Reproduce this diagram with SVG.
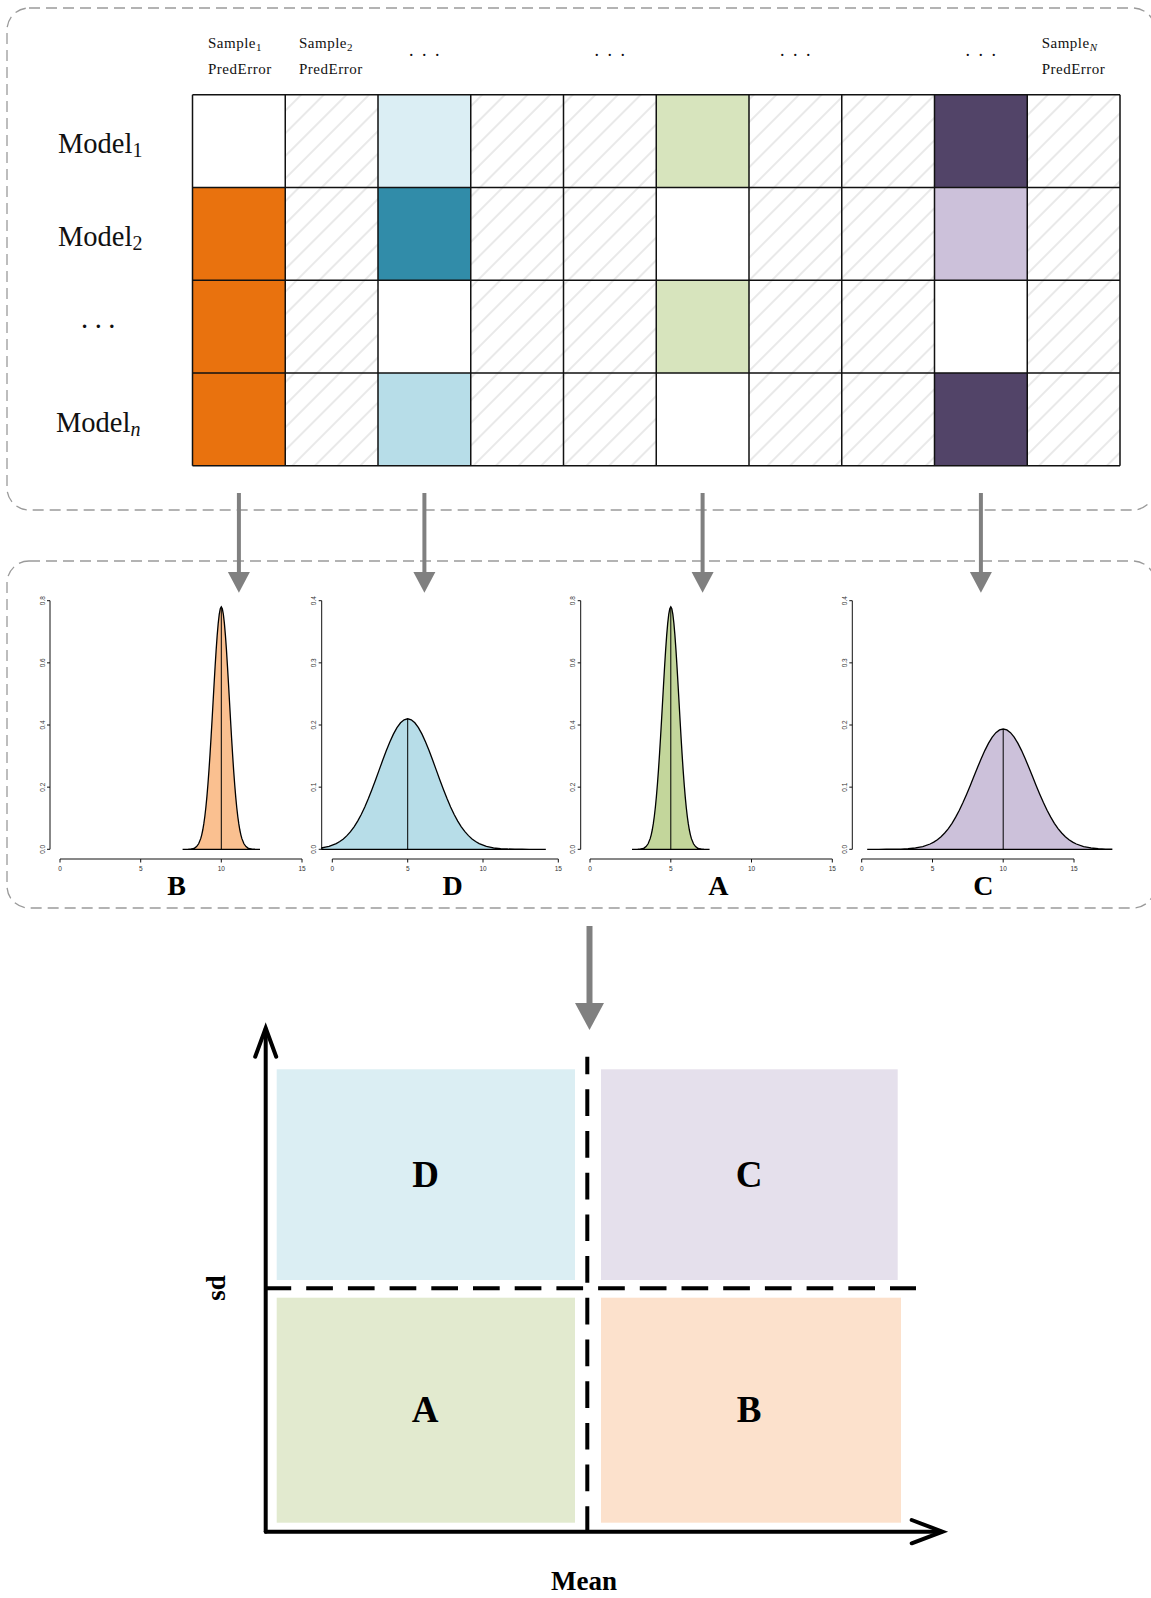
<svg xmlns="http://www.w3.org/2000/svg" width="1151" height="1598" viewBox="0 0 1151 1598">
<style>
.box{fill:none;stroke:#9a9a9a;stroke-width:1.3;stroke-dasharray:11 6}
.hdr{font-family:"Liberation Serif",serif;font-size:15px;fill:#111;letter-spacing:0.5px}
.dots{font-family:"Liberation Serif",serif;font-size:18px;fill:#111;letter-spacing:8.5px}
.mdl{font-family:"Liberation Serif",serif;font-size:28.5px;fill:#111}
.grid{stroke:#111;stroke-width:1.5;fill:none}
.arr{stroke:#808080;stroke-width:4;fill:none}
.ah{fill:#808080}
.ax{stroke:#111;stroke-width:1;fill:none}
.tk{font-family:"Liberation Sans",sans-serif;font-size:6.5px;fill:#333}
.curve{stroke:#000;stroke-width:1.3;vector-effect:non-scaling-stroke}
.mean{stroke:#000;stroke-width:1}
.plab{font-family:"Liberation Serif",serif;font-size:28px;font-weight:bold;fill:#000;text-anchor:middle}
.qlab{font-family:"Liberation Serif",serif;font-size:37px;font-weight:bold;fill:#000;text-anchor:middle}
.axlab{font-family:"Liberation Serif",serif;font-size:27px;font-weight:bold;fill:#000;text-anchor:middle}
.dash{stroke:#000;stroke-width:4;fill:none;stroke-dasharray:26.7 15}
.bax{stroke:#000;stroke-width:4;fill:none;stroke-linecap:round}
</style>
<defs>
<pattern id="hatch" patternUnits="userSpaceOnUse" width="16" height="16" patternTransform="rotate(-45)">
<rect width="16" height="16" fill="#fff"/>
<line x1="0" y1="8" x2="16" y2="8" stroke="#d3d3d3" stroke-width="1"/>
</pattern>
</defs>

<g id="panel-top">
<rect class="box" x="7" y="8" width="1148" height="502" rx="22"/>
</g>
<g id="panel-mid">
<rect class="box" x="7" y="561" width="1148" height="347" rx="22"/>
</g>

<g id="headers">
<text class="hdr" x="208" y="48">Sample<tspan font-size="11" dy="3">1</tspan></text>
<text class="hdr" x="208" y="74">PredError</text>
<text class="hdr" x="299" y="48">Sample<tspan font-size="11" dy="3">2</tspan></text>
<text class="hdr" x="299" y="74">PredError</text>
<text class="hdr" x="1041.7" y="48">Sample<tspan font-size="11" dy="3" font-style="italic">N</tspan></text>
<text class="hdr" x="1041.7" y="74">PredError</text>
<text class="dots" x="409" y="55.5">...</text>
<text class="dots" x="594.6" y="55.5">...</text>
<text class="dots" x="780" y="55.5">...</text>
<text class="dots" x="965.6" y="55.5">...</text>
</g>

<g id="row-labels">
<text class="mdl" x="58" y="153">Model<tspan font-size="20" dy="4">1</tspan></text>
<text class="mdl" x="58" y="245.5">Model<tspan font-size="20" dy="4">2</tspan></text>
<text class="mdl" x="81" y="328" style="letter-spacing:6.5px">...</text>
<text class="mdl" x="56" y="431.7">Model<tspan font-size="20" dy="4" font-style="italic">n</tspan></text>
</g>

<g id="matrix">
<rect x="192.5" y="94.7" width="927.5" height="371" fill="url(#hatch)"/>
<rect x="192.5" y="94.7" width="92.75" height="92.75" fill="#ffffff"/>
<rect x="378" y="94.7" width="92.75" height="92.75" fill="#dbeef4"/>
<rect x="656.25" y="94.7" width="92.75" height="92.75" fill="#d7e4bd"/>
<rect x="934.5" y="94.7" width="92.75" height="92.75" fill="#524468"/>
<rect x="192.5" y="187.45" width="92.75" height="92.75" fill="#e9720e"/>
<rect x="378" y="187.45" width="92.75" height="92.75" fill="#318ca9"/>
<rect x="656.25" y="187.45" width="92.75" height="92.75" fill="#ffffff"/>
<rect x="934.5" y="187.45" width="92.75" height="92.75" fill="#ccc1da"/>
<rect x="192.5" y="280.2" width="92.75" height="92.75" fill="#e9720e"/>
<rect x="378" y="280.2" width="92.75" height="92.75" fill="#ffffff"/>
<rect x="656.25" y="280.2" width="92.75" height="92.75" fill="#d7e4bd"/>
<rect x="934.5" y="280.2" width="92.75" height="92.75" fill="#ffffff"/>
<rect x="192.5" y="372.95" width="92.75" height="92.75" fill="#e9720e"/>
<rect x="378" y="372.95" width="92.75" height="92.75" fill="#b7dde8"/>
<rect x="656.25" y="372.95" width="92.75" height="92.75" fill="#ffffff"/>
<rect x="934.5" y="372.95" width="92.75" height="92.75" fill="#524468"/>
<path class="grid" d="M192.5,94.7V465.7 M285.25,94.7V465.7 M378,94.7V465.7 M470.75,94.7V465.7 M563.5,94.7V465.7 M656.25,94.7V465.7 M749,94.7V465.7 M841.75,94.7V465.7 M934.5,94.7V465.7 M1027.25,94.7V465.7 M1120,94.7V465.7 M192.5,94.7H1120 M192.5,187.45H1120 M192.5,280.2H1120 M192.5,372.95H1120 M192.5,465.7H1120"/>
</g>

<g id="connectors">
<line class="arr" x1="238.9" y1="493" x2="238.9" y2="575"/>
<polygon class="ah" points="227.9,572 249.9,572 238.9,592.7"/>
<line class="arr" x1="424.4" y1="493" x2="424.4" y2="575"/>
<polygon class="ah" points="413.4,572 435.4,572 424.4,592.7"/>
<line class="arr" x1="702.6" y1="493" x2="702.6" y2="575"/>
<polygon class="ah" points="691.6,572 713.6,572 702.6,592.7"/>
<line class="arr" x1="980.9" y1="493" x2="980.9" y2="575"/>
<polygon class="ah" points="969.9,572 991.9,572 980.9,592.7"/>
<line class="arr" x1="589.5" y1="926" x2="589.5" y2="1008" style="stroke-width:6"/>
<polygon class="ah" points="575,1003 604,1003 589.5,1030"/>
</g>

<g id="plot-B">
<path class="ax" d="M50,849.3V600.7 M47,849.3H50 M47,787.15H50 M47,725H50 M47,662.85H50 M47,600.7H50"/>
<text class="tk" text-anchor="middle" transform="translate(44.5,849.3) rotate(-90)">0.0</text>
<text class="tk" text-anchor="middle" transform="translate(44.5,787.15) rotate(-90)">0.2</text>
<text class="tk" text-anchor="middle" transform="translate(44.5,725) rotate(-90)">0.4</text>
<text class="tk" text-anchor="middle" transform="translate(44.5,662.85) rotate(-90)">0.6</text>
<text class="tk" text-anchor="middle" transform="translate(44.5,600.7) rotate(-90)">0.8</text>
<path class="ax" d="M60,859H302 M60,859V862.5 M140.7,859V862.5 M221.3,859V862.5 M302,859V862.5"/>
<text class="tk" text-anchor="middle" x="60" y="870.5">0</text>
<text class="tk" text-anchor="middle" x="140.7" y="870.5">5</text>
<text class="tk" text-anchor="middle" x="221.3" y="870.5">10</text>
<text class="tk" text-anchor="middle" x="302" y="870.5">15</text>
<path class="curve" fill="#fac090" transform="translate(221.3,849.3) scale(8.24,-242.4)" d="M-4.7,0 L-4.25,0.0001 L-4,0.0003 L-3.75,0.0009 L-3.5,0.0022 L-3.25,0.0051 L-3,0.0111 L-2.75,0.0228 L-2.5,0.0439 L-2.375,0.0596 L-2.25,0.0796 L-2.125,0.1046 L-2,0.1353 L-1.875,0.1724 L-1.75,0.2163 L-1.625,0.2671 L-1.5,0.3247 L-1.375,0.3886 L-1.25,0.4578 L-1.125,0.5311 L-1,0.6065 L-0.875,0.6819 L-0.75,0.7548 L-0.625,0.8226 L-0.5,0.8825 L-0.375,0.9321 L-0.25,0.9692 L-0.125,0.9922 L0,1 L0.125,0.9922 L0.25,0.9692 L0.375,0.9321 L0.5,0.8825 L0.625,0.8226 L0.75,0.7548 L0.875,0.6819 L1,0.6065 L1.125,0.5311 L1.25,0.4578 L1.375,0.3886 L1.5,0.3247 L1.625,0.2671 L1.75,0.2163 L1.875,0.1724 L2,0.1353 L2.125,0.1046 L2.25,0.0796 L2.375,0.0596 L2.5,0.0439 L2.75,0.0228 L3,0.0111 L3.25,0.0051 L3.5,0.0022 L3.75,0.0009 L4,0.0003 L4.25,0.0001 L4.7,0 Z"/>
<line class="mean" x1="221.3" y1="849.3" x2="221.3" y2="606.9"/>
<text class="plab" x="176.7" y="895">B</text>
</g>

<g id="plot-D">
<path class="ax" d="M321.7,849.3V600.7 M318.7,849.3H321.7 M318.7,787.15H321.7 M318.7,725H321.7 M318.7,662.85H321.7 M318.7,600.7H321.7"/>
<text class="tk" text-anchor="middle" transform="translate(316.2,849.3) rotate(-90)">0.0</text>
<text class="tk" text-anchor="middle" transform="translate(316.2,787.15) rotate(-90)">0.1</text>
<text class="tk" text-anchor="middle" transform="translate(316.2,725) rotate(-90)">0.2</text>
<text class="tk" text-anchor="middle" transform="translate(316.2,662.85) rotate(-90)">0.3</text>
<text class="tk" text-anchor="middle" transform="translate(316.2,600.7) rotate(-90)">0.4</text>
<path class="ax" d="M332.3,859H558.3 M332.3,859V862.5 M407.7,859V862.5 M483,859V862.5 M558.3,859V862.5"/>
<text class="tk" text-anchor="middle" x="332.3" y="870.5">0</text>
<text class="tk" text-anchor="middle" x="407.7" y="870.5">5</text>
<text class="tk" text-anchor="middle" x="483" y="870.5">10</text>
<text class="tk" text-anchor="middle" x="558.3" y="870.5">15</text>
<path class="curve" fill="#b7dde8" transform="translate(407.7,849.3) scale(28.6,-130.5)" d="M-3,0 L-3,0.0111 L-2.75,0.0228 L-2.5,0.0439 L-2.375,0.0596 L-2.25,0.0796 L-2.125,0.1046 L-2,0.1353 L-1.875,0.1724 L-1.75,0.2163 L-1.625,0.2671 L-1.5,0.3247 L-1.375,0.3886 L-1.25,0.4578 L-1.125,0.5311 L-1,0.6065 L-0.875,0.6819 L-0.75,0.7548 L-0.625,0.8226 L-0.5,0.8825 L-0.375,0.9321 L-0.25,0.9692 L-0.125,0.9922 L0,1 L0.125,0.9922 L0.25,0.9692 L0.375,0.9321 L0.5,0.8825 L0.625,0.8226 L0.75,0.7548 L0.875,0.6819 L1,0.6065 L1.125,0.5311 L1.25,0.4578 L1.375,0.3886 L1.5,0.3247 L1.625,0.2671 L1.75,0.2163 L1.875,0.1724 L2,0.1353 L2.125,0.1046 L2.25,0.0796 L2.375,0.0596 L2.5,0.0439 L2.75,0.0228 L3,0.0111 L3.25,0.0051 L3.5,0.0022 L3.75,0.0009 L4,0.0003 L4.25,0.0001 L4.83,0 Z"/>
<line class="mean" x1="407.7" y1="849.3" x2="407.7" y2="718.8"/>
<text class="plab" x="452.7" y="895">D</text>
</g>

<g id="plot-A">
<path class="ax" d="M580.7,849.3V600.7 M577.7,849.3H580.7 M577.7,787.15H580.7 M577.7,725H580.7 M577.7,662.85H580.7 M577.7,600.7H580.7"/>
<text class="tk" text-anchor="middle" transform="translate(575.2,849.3) rotate(-90)">0.0</text>
<text class="tk" text-anchor="middle" transform="translate(575.2,787.15) rotate(-90)">0.2</text>
<text class="tk" text-anchor="middle" transform="translate(575.2,725) rotate(-90)">0.4</text>
<text class="tk" text-anchor="middle" transform="translate(575.2,662.85) rotate(-90)">0.6</text>
<text class="tk" text-anchor="middle" transform="translate(575.2,600.7) rotate(-90)">0.8</text>
<path class="ax" d="M590,859H832.3 M590,859V862.5 M670.8,859V862.5 M751.5,859V862.5 M832.3,859V862.5"/>
<text class="tk" text-anchor="middle" x="590" y="870.5">0</text>
<text class="tk" text-anchor="middle" x="670.8" y="870.5">5</text>
<text class="tk" text-anchor="middle" x="751.5" y="870.5">10</text>
<text class="tk" text-anchor="middle" x="832.3" y="870.5">15</text>
<path class="curve" fill="#c3d69b" transform="translate(670.8,849.3) scale(8.25,-242.4)" d="M-4.7,0 L-4.25,0.0001 L-4,0.0003 L-3.75,0.0009 L-3.5,0.0022 L-3.25,0.0051 L-3,0.0111 L-2.75,0.0228 L-2.5,0.0439 L-2.375,0.0596 L-2.25,0.0796 L-2.125,0.1046 L-2,0.1353 L-1.875,0.1724 L-1.75,0.2163 L-1.625,0.2671 L-1.5,0.3247 L-1.375,0.3886 L-1.25,0.4578 L-1.125,0.5311 L-1,0.6065 L-0.875,0.6819 L-0.75,0.7548 L-0.625,0.8226 L-0.5,0.8825 L-0.375,0.9321 L-0.25,0.9692 L-0.125,0.9922 L0,1 L0.125,0.9922 L0.25,0.9692 L0.375,0.9321 L0.5,0.8825 L0.625,0.8226 L0.75,0.7548 L0.875,0.6819 L1,0.6065 L1.125,0.5311 L1.25,0.4578 L1.375,0.3886 L1.5,0.3247 L1.625,0.2671 L1.75,0.2163 L1.875,0.1724 L2,0.1353 L2.125,0.1046 L2.25,0.0796 L2.375,0.0596 L2.5,0.0439 L2.75,0.0228 L3,0.0111 L3.25,0.0051 L3.5,0.0022 L3.75,0.0009 L4,0.0003 L4.25,0.0001 L4.7,0 Z"/>
<line class="mean" x1="670.8" y1="849.3" x2="670.8" y2="606.9"/>
<text class="plab" x="718.3" y="895">A</text>
</g>

<g id="plot-C">
<path class="ax" d="M852.3,849.3V600.7 M849.3,849.3H852.3 M849.3,787.15H852.3 M849.3,725H852.3 M849.3,662.85H852.3 M849.3,600.7H852.3"/>
<text class="tk" text-anchor="middle" transform="translate(846.8,849.3) rotate(-90)">0.0</text>
<text class="tk" text-anchor="middle" transform="translate(846.8,787.15) rotate(-90)">0.1</text>
<text class="tk" text-anchor="middle" transform="translate(846.8,725) rotate(-90)">0.2</text>
<text class="tk" text-anchor="middle" transform="translate(846.8,662.85) rotate(-90)">0.3</text>
<text class="tk" text-anchor="middle" transform="translate(846.8,600.7) rotate(-90)">0.4</text>
<path class="ax" d="M861.7,859H1074 M861.7,859V862.5 M932.5,859V862.5 M1003.2,859V862.5 M1074,859V862.5"/>
<text class="tk" text-anchor="middle" x="861.7" y="870.5">0</text>
<text class="tk" text-anchor="middle" x="932.5" y="870.5">5</text>
<text class="tk" text-anchor="middle" x="1003.2" y="870.5">10</text>
<text class="tk" text-anchor="middle" x="1074" y="870.5">15</text>
<path class="curve" fill="#ccc1da" transform="translate(1003.2,849.3) scale(29.25,-120.3)" d="M-4.65,0 L-4.25,0.0001 L-4,0.0003 L-3.75,0.0009 L-3.5,0.0022 L-3.25,0.0051 L-3,0.0111 L-2.75,0.0228 L-2.5,0.0439 L-2.375,0.0596 L-2.25,0.0796 L-2.125,0.1046 L-2,0.1353 L-1.875,0.1724 L-1.75,0.2163 L-1.625,0.2671 L-1.5,0.3247 L-1.375,0.3886 L-1.25,0.4578 L-1.125,0.5311 L-1,0.6065 L-0.875,0.6819 L-0.75,0.7548 L-0.625,0.8226 L-0.5,0.8825 L-0.375,0.9321 L-0.25,0.9692 L-0.125,0.9922 L0,1 L0.125,0.9922 L0.25,0.9692 L0.375,0.9321 L0.5,0.8825 L0.625,0.8226 L0.75,0.7548 L0.875,0.6819 L1,0.6065 L1.125,0.5311 L1.25,0.4578 L1.375,0.3886 L1.5,0.3247 L1.625,0.2671 L1.75,0.2163 L1.875,0.1724 L2,0.1353 L2.125,0.1046 L2.25,0.0796 L2.375,0.0596 L2.5,0.0439 L2.75,0.0228 L3,0.0111 L3.25,0.0051 L3.5,0.0022 L3.71,0.001 L3.71,0 Z"/>
<line class="mean" x1="1003.2" y1="849.3" x2="1003.2" y2="729"/>
<text class="plab" x="983.3" y="895">C</text>
</g>

<g id="quadrants">
<g id="quad-D">
<rect x="276.7" y="1069.3" width="298.3" height="210.7" fill="#dbeef3"/>
<text class="qlab" x="425.7" y="1187">D</text>
</g>
<g id="quad-C">
<rect x="601" y="1069.3" width="296.7" height="210.7" fill="#e5e0ec"/>
<text class="qlab" x="749" y="1187">C</text>
</g>
<g id="quad-A">
<rect x="276.7" y="1297.7" width="298.3" height="225" fill="#e2eacf"/>
<text class="qlab" x="425" y="1421.5">A</text>
</g>
<g id="quad-B">
<rect x="601" y="1297.7" width="300" height="225" fill="#fce1cc"/>
<text class="qlab" x="749" y="1421.5">B</text>
</g>
</g>

<g id="axes-bottom">
<line class="dash" x1="264.5" y1="1288.3" x2="916" y2="1288.3"/>
<line class="dash" x1="587.3" y1="1533" x2="587.3" y2="1056.7"/>
<line class="bax" x1="265.7" y1="1531.7" x2="265.7" y2="1029"/>
<polyline class="bax" points="255.2,1056.7 265.7,1028 276.2,1056.7" style="stroke-linejoin:miter"/>
<line class="bax" x1="265.7" y1="1531.7" x2="941" y2="1531.7"/>
<polyline class="bax" points="911.7,1520 942.5,1531.7 911.7,1543.3" style="stroke-linejoin:miter"/>
<text class="axlab" transform="translate(225,1288) rotate(-90)">sd</text>
<text class="axlab" x="584" y="1590">Mean</text>
</g>
</svg>
